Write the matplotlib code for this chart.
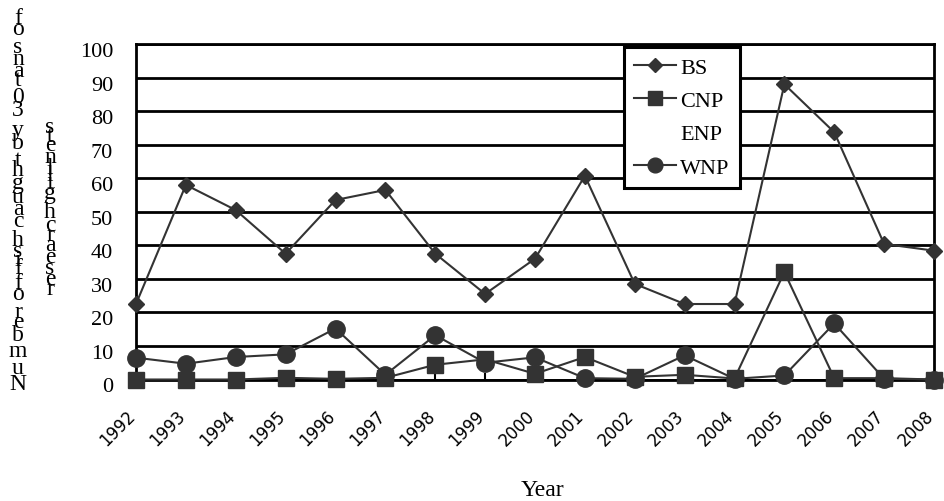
import matplotlib
matplotlib.use('Agg')
import matplotlib.pyplot as plt
import matplotlib.transforms as mtransforms

# catch per year
years = [1992, 1993, 1994, 1995, 1996, 1997, 1998, 1999, 2000,
         2001, 2002, 2003, 2004, 2005, 2006, 2007, 2008]
bs = [22.5, 58, 50.5, 37.5, 53.5, 56.5, 37.5, 25.5, 36,
      60.7, 28.5, 22.5, 22.5, 88, 73.7, 40.4, 38.4]
cnp = [0, 0, 0, 0.5, 0.2, 0.5, 4.4, 6, 1.7,
       6.7, 0.8, 1.4, 0.3, 32, 0.4, 0.4, 0]
enp = [0, 0, 0, 0, 0, 0, 0, 0, 0,
       0, 0, 0, 0, 0, 0, 0, 0]
wnp = [6.5, 4.7, 6.7, 7.5, 15.2, 1.4, 13.2, 5.0, 6.6,
       0.4, 0.2, 7.2, 0.2, 1.2, 16.7, 0.2, 0]

ylabel_lines = ['Number of fish caught by 30 tans of', 'research gillnets']

W, H = 944, 502
dark = '#333333'
serif = 'Liberation Serif'

fig = plt.figure(figsize=(W / 100, H / 100), dpi=100)
ax = fig.add_axes([136 / W, 1 - 380.5 / H, 798 / W, 335.5 / H])

ax.plot(years, bs, color=dark, lw=1.5, marker='D', ms=8.5, label='BS', zorder=3, clip_on=False)
ax.plot(years, cnp, color=dark, lw=1.5, marker='s', ms=11.5, label='CNP', zorder=5, clip_on=False)
ax.plot(years, enp, ls='none', label='ENP')  # not visible in the original
ax.plot(years, wnp, color=dark, lw=1.5, marker='o', ms=12.5, label='WNP', zorder=4, clip_on=False)

ax.set_xlim(1992, 2008)
ax.set_ylim(0, 100)
ax.set_xticks(years)
ax.set_yticks(range(0, 101, 10))
ax.grid(axis='y', color='black', lw=2)
ax.set_axisbelow(True)
for s in ax.spines.values():
    s.set_linewidth(2)
    s.set_color('black')

ax.tick_params(axis='y', length=0, pad=16.5, labelsize=16)
ax.tick_params(axis='x', direction='in', length=5, width=1.5, pad=19, labelsize=12)
off_y = mtransforms.ScaledTranslation(0, -5 / 100, fig.dpi_scale_trans)
for lab in ax.get_yticklabels():
    lab.set_family(serif)
    lab.set_transform(lab.get_transform() + off_y)
off_x = mtransforms.ScaledTranslation(3 / 100, 0, fig.dpi_scale_trans)
for lab in ax.get_xticklabels():
    lab.set_rotation(45)
    lab.set_ha('right')
    lab.set_family('DejaVu Sans')
    lab.set_transform(lab.get_transform() + off_x)

ax.set_xlabel('Year', fontsize=17, family=serif)
ax.xaxis.set_label_coords(0.51, -0.297)

leg = ax.legend(loc='upper left', bbox_to_anchor=(0.611, 0.991), borderaxespad=0,
                prop=dict(family=serif, size=16), fancybox=False, framealpha=1,
                edgecolor='black', borderpad=0.45, labelspacing=0.58,
                handlelength=1.9, handletextpad=0.2, markerscale=0.85)
leg.get_frame().set_linewidth(2.2)
leg.set_zorder(10)

# the y label in the original is drawn as upright letters stacked bottom to top,
# spaced by their proportional advance widths
adv = {'N': 722, 'u': 500, 'm': 778, 'b': 500, 'e': 444, 'r': 333, ' ': 250,
       'o': 500, 'f': 333, 'i': 278, 's': 389, 'h': 500, 'c': 444, 'a': 444,
       'g': 500, 't': 278, 'y': 500, '3': 500, '0': 500, 'n': 500, 'l': 278}


def stack_label(text, xc, yc, em=26.3):
    total = sum(adv[c] for c in text) / 1000 * em
    y = yc + total / 2
    for c in text:
        w = adv[c] / 1000 * em
        if c != ' ':
            fig.text(xc / W, 1 - (y - w / 2) / H, c, ha='center', va='center',
                     fontsize=17, family=serif)
        y -= w


stack_label(ylabel_lines[0], 18, 204)
stack_label(ylabel_lines[1], 50, 208)

fig.savefig('out.png', dpi=100)
